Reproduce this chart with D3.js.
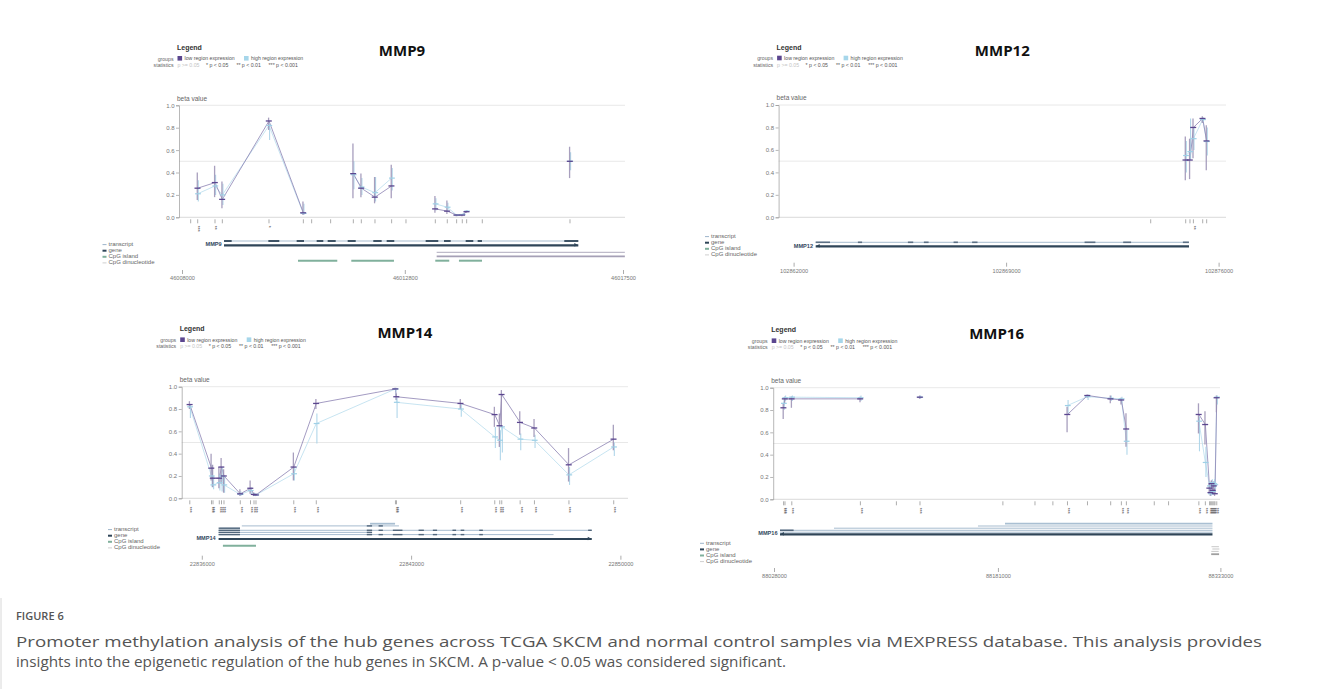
<!DOCTYPE html>
<html>
<head>
<meta charset="utf-8">
<script src="https://d3js.org/d3.v7.min.js"></script>
<style>
  body { margin: 0; background: #fff; }
  svg text { font-family: "Liberation Sans", Arial, sans-serif; }
  .title { font-family: "Open Sans", sans-serif; font-weight: 700; font-size: 15px; fill: #111; }
  .caption { font-family: "Open Sans", sans-serif; fill: #555; }
</style>
</head>
<body>
<svg id="fig" width="1318" height="689"></svg>
<script>
// ---------- data ----------
const yTicks = [0, 0.2, 0.4, 0.6, 0.8, 1.0]

// MMP9
const mmp9Ticks = [46008000, 46012800, 46017500]
const mmp9Probes = [46008187, 46008338, 46008711, 46008869, 46009874, 46010614, 46010793, 46011202, 46011691, 46011863, 46012157, 46012516, 46012825, 46013457, 46013715, 46013916, 46014038, 46014132, 46014469, 46016358]
const mmp9Low  = [null, 0.26, 0.31, 0.16, 0.86, 0.04, null, null, 0.39, 0.26, 0.18, 0.28, null, 0.075, 0.055, 0.02, 0.02, 0.05, null, 0.50]
const mmp9High = [null, 0.21, 0.28, 0.20, 0.82, 0.035, null, null, 0.38, 0.27, 0.22, 0.35, null, 0.12, 0.09, 0.02, 0.025, 0.055, null, 0.50]
const mmp9LowBar = [null, [0.155, 0.40], [0.18, 0.46], [0.08, 0.32], [0.78, 0.89], [0.02, 0.14], null, null, [0.17, 0.66], [0.18, 0.39], [0.125, 0.36], [0.17, 0.47], null, [0.04, 0.19], [0.03, 0.15], [0.01, 0.03], [0.01, 0.03], [0.04, 0.06], null, [0.35, 0.63]]
const mmp9HighBar = [null, [0.14, 0.33], [0.2, 0.38], [0.11, 0.30], [0.69, 0.84], [0.02, 0.12], null, null, [0.25, 0.5], [0.2, 0.35], [0.14, 0.36], [0.24, 0.44], null, [0.06, 0.17], [0.05, 0.13], [0.01, 0.03], [0.015, 0.035], [0.045, 0.065], null, [0.42, 0.58]]
const mmp9Stars = [0, 3, 2, 0, 1, 0, 0, 0, 0, 0, 0, 0, 0, 0, 0, 0, 0, 0, 0, 0]
const mmp9Gene = [46008905, 46016537]
const mmp9Exons = [[46008905, 46009070], [46009860, 46010096], [46010470, 46010628], [46010901, 46011044], [46011138, 46011311], [46011569, 46011742], [46012121, 46012301], [46012409, 46012573], [46013249, 46013521], [46013644, 46013788], [46014111, 46014275], [46014369, 46014462], [46016235, 46016537]]
const mmp9Neighbor = [46013486, 46017540]
const mmp9Islands = [[46010499, 46011345], [46011647, 46012566], [46013456, 46013757], [46013966, 46014462]]

// MMP12
const mmp12Ticks = [102862000, 102869000, 102876000]
const mmp12Probes = [102873763, 102874916, 102875057, 102875170, 102875476, 102875607]
const mmp12Low  = [null, 0.51, 0.51, 0.80, 0.88, 0.68]
const mmp12High = [null, 0.55, 0.585, 0.70, 0.87, 0.675]
const mmp12LowBar = [null, [0.33, 0.72], [0.34, 0.70], [0.525, 0.88], [0.84, 0.90], [0.42, 0.82]]
const mmp12HighBar = [null, [0.40, 0.68], [0.52, 0.88], [0.60, 0.80], [0.85, 0.89], [0.55, 0.80]]
const mmp12Stars = [0, 0, 0, 2, 0, 0]
const mmp12Gene = [102862728, 102875025]
const mmp12Exons = [[102862728, 102863199], [102864118, 102864256], [102865765, 102865940], [102866292, 102866447], [102867270, 102867412], [102867880, 102868058], [102871585, 102871941], [102872857, 102873117], [102874824, 102875022]]

// MMP14
const mmp14Ticks = [22836000, 22843000, 22850000]
const mmp14Probes = [22835599, 22836324, 22836375, 22836585, 22836659, 22836742, 22837287, 22837629, 22837746, 22837812, 22839076, 22839829, 22842477, 22842511, 22844658, 22845798, 22845965, 22846032, 22846647, 22847125, 22848279, 22849777]
const mmp14Low  = [0.84, 0.27, 0.18, 0.18, 0.28, 0.20, 0.04, 0.09, 0.035, 0.03, 0.28, 0.85, 0.98, 0.91, 0.85, 0.75, 0.65, 0.93, 0.68, 0.63, 0.30, 0.53]
const mmp14High = [0.82, 0.20, 0.12, 0.14, 0.20, 0.12, 0.035, 0.07, 0.035, 0.03, 0.22, 0.67, 0.98, 0.86, 0.80, 0.55, 0.52, 0.64, 0.53, 0.52, 0.21, 0.46]
const mmp14LowBar = [[0.80, 0.87], [0.16, 0.40], [0.10, 0.30], [0.09, 0.28], [0.13, 0.36], [0.05, 0.26], [0.02, 0.08], [0.04, 0.16], [0.02, 0.05], [0.02, 0.04], [0.16, 0.41], [0.80, 0.89], [0.97, 0.99], [0.88, 0.94], [0.80, 0.89], [0.64, 0.82], [0.46, 0.76], [0.64, 0.97], [0.57, 0.78], [0.55, 0.71], [0.15, 0.45], [0.43, 0.66]]
const mmp14HighBar = [[0.72, 0.84], [0.10, 0.30], [0.08, 0.20], [0.07, 0.22], [0.06, 0.28], [0.05, 0.20], [0.02, 0.06], [0.04, 0.10], [0.02, 0.05], [0.02, 0.04], [0.16, 0.28], [0.49, 0.76], [0.96, 0.99], [0.72, 0.90], [0.73, 0.85], [0.45, 0.64], [0.34, 0.61], [0.41, 0.64], [0.43, 0.58], [0.45, 0.57], [0.12, 0.28], [0.38, 0.50]]
const mmp14Stars = [3, 3, 3, 3, 3, 3, 3, 3, 3, 3, 3, 3, 3, 3, 3, 3, 3, 3, 3, 3, 3, 3]
const mmp14Gene = [22836562, 22849042]
const mmp14Transcripts = [[22841627, 22842463], [22837338, 22842594], [22836609, 22837277], [22836562, 22849042], [22836562, 22841691], [22836562, 22847764]]
const mmp14Exons = [[22836562, 22837277], [22841518, 22841695], [22841912, 22842056], [22842390, 22842711], [22843250, 22843427], [22843728, 22843868], [22844383, 22844504], [22844658, 22844778], [22845280, 22845400], [22848921, 22849042]]
const mmp14Islands = [[22836706, 22837812]]

// MMP16
const mmp16Ticks = [88028000, 88181000, 88333000]
const mmp16Probes = [88034559, 88035515, 88040161, 88087028, 88111624, 88127747, 88184385, 88206315, 88218545, 88228519, 88242183, 88258034, 88265344, 88268760, 88287821, 88297590, 88318292, 88322732, 88325602, 88326354, 88327105, 88327857, 88328608, 88329291, 88330521]
const mmp16Low  = [0.82, 0.90, 0.90, 0.90, null, 0.915, null, null, null, 0.76, 0.93, 0.90, 0.89, 0.63, null, null, 0.76, 0.67, 0.10, 0.06, 0.14, 0.08, 0.12, 0.05, 0.91]
const mmp16High = [0.86, 0.91, 0.915, 0.91, null, 0.915, null, null, null, 0.84, 0.92, 0.905, 0.90, 0.52, null, null, 0.70, 0.33, 0.12, 0.05, 0.15, 0.07, 0.14, 0.13, 0.915]
const mmp16LowBar = [[0.72, 0.86], [0.86, 0.92], [0.82, 0.92], [0.87, 0.92], null, [0.90, 0.93], null, null, null, [0.60, 0.83], [0.91, 0.94], [0.86, 0.93], [0.85, 0.91], [0.47, 0.77], null, null, [0.59, 0.86], [0.49, 0.79], [0.06, 0.14], [0.03, 0.09], [0.10, 0.17], [0.05, 0.12], [0.08, 0.16], [0.03, 0.08], [0.78, 0.93]]
const mmp16HighBar = [[0.80, 0.90], [0.88, 0.93], [0.88, 0.93], [0.88, 0.93], null, [0.90, 0.93], null, null, null, [0.77, 0.89], [0.89, 0.94], [0.88, 0.93], [0.86, 0.92], [0.40, 0.62], null, null, [0.43, 0.74], [0.20, 0.47], [0.08, 0.16], [0.03, 0.08], [0.11, 0.18], [0.04, 0.10], [0.10, 0.18], [0.09, 0.16], [0.85, 0.93]]
const mmp16Stars = [3, 3, 3, 3, 0, 3, 0, 0, 0, 3, 0, 0, 3, 3, 0, 0, 3, 3, 3, 3, 3, 3, 3, 3, 3]
const mmp16Gene = [88032099, 88327583]
const mmp16Transcripts = [[88185819, 88327583], [88167373, 88327583], [88068992, 88327583], [88032099, 88327583], [88032099, 88327583]]
const mmp16Exons = [[88032099, 88041390]]
const mmp16Neighbors = [[88326900, 88332000], [88327500, 88332300], [88326800, 88331800], [88326700, 88332100]]

const groupLabels = ["low region expression", "high region expression"]
const statLabels = ["p >= 0.05", "* p < 0.05", "** p < 0.01", "*** p < 0.001"]
const trackLegend = ["transcript", "gene", "CpG island", "CpG dinucleotide"]

// ---------- colours ----------
const cLow = "#5b468f", cLowLine = "#8b82b3", cLowBar = "#9a8fb3"
const cHigh = "#9fd0e6", cHighLine = "#b9dded", cHighBar = "#a9d3e8"
const cTranscript = "#9db4ca", cGene = "#2f4558", cIsland = "#80b09c", cNeighbor = "#a5a0b6"

const svg = d3.select("#fig")

function probeRows(p) {
  return p.probes.map((pos, i) => ({pos: pos, low: p.low[i], high: p.high[i], lowBar: p.lowBar[i], highBar: p.highBar[i], stars: p.stars[i]}))
}

function drawPanel(p) {
  const L = p.layout
  const g = svg.append("g")
  const y = d3.scaleLinear().domain([0, 1]).range([L.yBot, L.yTop])
  const x = d3.scaleLinear().domain([p.ticks[0], p.ticks[p.ticks.length - 1]]).range(L.gx)
  const rows = probeRows(p)

  // title
  g.append("text").attr("class", "title")
    .attr("x", (L.x0 + L.x1) / 2).attr("y", L.yTop - 49)
    .attr("text-anchor", "middle").text(p.name)

  // legend block
  g.append("text").attr("x", L.x0 - 2).attr("y", L.yTop - 55.5)
    .style("font-size", "7px").style("font-weight", "bold").attr("fill", "#333").text("Legend")
  g.append("text").attr("x", L.x0 - 5.5).attr("y", L.yTop - 44.8).attr("text-anchor", "end")
    .style("font-size", "5.2px").attr("fill", "#666").text("groups")
  g.append("text").attr("x", L.x0 - 5.5).attr("y", L.yTop - 38.5).attr("text-anchor", "end")
    .style("font-size", "5.2px").attr("fill", "#666").text("statistics")
  const sq = [[L.x0 - 1.5, cLow], [L.x0 + 65, "#a6d6ea"]]
  sq.forEach((s, i) => {
    g.append("rect").attr("x", s[0]).attr("y", L.yTop - 49.3).attr("width", 4.6).attr("height", 4.6).attr("fill", s[1])
    g.append("text").attr("x", s[0] + 7).attr("y", L.yTop - 45.2)
      .style("font-size", "5.2px").attr("fill", "#555").text(groupLabels[i])
  })
  const statX = [-1.5, 27, 57.4, 89.6]
  statLabels.forEach((t, i) => {
    g.append("text").attr("x", L.x0 + statX[i]).attr("y", L.yTop - 38.5)
      .style("font-size", "5.2px").attr("fill", i == 0 ? "#c4c4c4" : "#555").text(t)
  })

  // grid lines
  ;[1, 0.5, 0].forEach(v => {
    g.append("line").attr("x1", L.x0).attr("x2", L.x1).attr("y1", y(v)).attr("y2", y(v))
      .attr("stroke", v == 0 ? "#cfcfcf" : "#e2e2e2").attr("stroke-width", 0.8)
  })

  // y axis
  const ya = g.append("g").attr("transform", "translate(" + L.x0 + ",0)")
    .call(d3.axisLeft(y).tickValues(yTicks).tickFormat(d3.format(".1f")).tickSize(3).tickPadding(1.5))
  ya.selectAll("path,line").attr("stroke", "#9a9a9a").attr("stroke-width", 0.7)
  ya.selectAll("text").style("font-size", "6px").attr("fill", "#777").style("font-family", "Liberation Sans, Arial, sans-serif")
  g.append("text").attr("x", L.x0 - 2).attr("y", L.yTop - 4.8)
    .style("font-size", "6.5px").attr("fill", "#666").text("beta value")

  // connecting lines
  const lowLine = d3.line().defined(d => d.low != null).x(d => x(d.pos)).y(d => y(d.low))
  const highLine = d3.line().defined(d => d.high != null).x(d => x(d.pos)).y(d => y(d.high))
  g.append("path").attr("d", highLine(rows)).attr("fill", "none").attr("stroke", cHighLine).attr("stroke-width", 0.8)
  g.append("path").attr("d", lowLine(rows)).attr("fill", "none").attr("stroke", cLowLine).attr("stroke-width", 0.8)

  // error bars
  const withData = rows.filter(d => d.low != null)
  g.selectAll(".hb").data(withData).enter().append("line")
    .attr("x1", d => x(d.pos) + 0.6).attr("x2", d => x(d.pos) + 0.6)
    .attr("y1", d => y(d.highBar[0])).attr("y2", d => y(d.highBar[1]))
    .attr("stroke", cHighBar).attr("stroke-width", 1.1).attr("opacity", 0.9)
  g.selectAll(".lb").data(withData).enter().append("line")
    .attr("x1", d => x(d.pos) - 0.4).attr("x2", d => x(d.pos) - 0.4)
    .attr("y1", d => y(d.lowBar[0])).attr("y2", d => y(d.lowBar[1]))
    .attr("stroke", cLowBar).attr("stroke-width", 1.3).attr("opacity", 0.85)

  // mean markers
  g.selectAll(".hm").data(withData).enter().append("line")
    .attr("x1", d => x(d.pos) - 2.6).attr("x2", d => x(d.pos) + 3.2)
    .attr("y1", d => y(d.high)).attr("y2", d => y(d.high))
    .attr("stroke", cHigh).attr("stroke-width", 1.2)
  g.selectAll(".lm").data(withData).enter().append("line")
    .attr("x1", d => x(d.pos) - 3.2).attr("x2", d => x(d.pos) + 2.8)
    .attr("y1", d => y(d.low)).attr("y2", d => y(d.low))
    .attr("stroke", cLow).attr("stroke-width", 1.3)

  // probe ticks and stars
  g.selectAll(".pt").data(rows).enter().append("line")
    .attr("x1", d => x(d.pos)).attr("x2", d => x(d.pos))
    .attr("y1", L.yBot + 2).attr("y2", L.yBot + 6)
    .attr("stroke", "#8a8a8a").attr("stroke-width", 0.7)
  g.selectAll(".st").data(rows.filter(d => d.stars > 0)).enter().append("text")
    .attr("transform", d => "translate(" + (x(d.pos) - 1.6) + "," + (L.yBot + 8.5) + ") rotate(90)")
    .style("font-size", "5px").attr("fill", "#555").text(d => "*".repeat(d.stars))

  // gene track
  const track = g.append("g")
  p.tracks.forEach(t => {
    track.append("line").attr("x1", x(t.span[0])).attr("x2", Math.min(x(t.span[1]), L.x1))
      .attr("y1", t.y).attr("y2", t.y).attr("stroke", t.color).attr("stroke-width", t.w)
    ;(t.exons || []).forEach(e => {
      track.append("rect").attr("x", x(e[0])).attr("width", Math.max(0.8, x(e[1]) - x(e[0])))
        .attr("y", t.y - t.ew / 2).attr("height", t.ew).attr("fill", t.exonColor)
    })
  })
  ;(p.islands || []).forEach(s => {
    track.append("line").attr("x1", x(s[0])).attr("x2", x(s[1]))
      .attr("y1", L.islandY).attr("y2", L.islandY).attr("stroke", cIsland).attr("stroke-width", 2)
  })
  track.append("text").attr("x", L.label[0]).attr("y", L.label[1]).attr("text-anchor", "end")
    .style("font-size", "5.6px").style("font-weight", "bold").attr("fill", "#34495e").text(p.name)

  // strand arrow on gene
  const gs = p.gene
  const ax = p.strand > 0 ? x(gs[1]) : x(gs[0])
  track.append("path")
    .attr("d", "M" + (ax - 4 * p.strand) + "," + (L.geneY - 2.2) + "L" + ax + "," + L.geneY + "L" + (ax - 4 * p.strand) + "," + (L.geneY + 1.2) + "Z")
    .attr("fill", cGene)

  // track legend
  const lc = [[cTranscript, 1], [cGene, 2], [cIsland, 2], ["#cfcfcf", 1]]
  trackLegend.forEach((t, i) => {
    const yy = L.legendY + i * 6.1
    g.append("line").attr("x1", L.legendX).attr("x2", L.legendX + 4).attr("y1", yy + 0.6).attr("y2", yy + 0.6)
      .attr("stroke", lc[i][0]).attr("stroke-width", lc[i][1])
    g.append("text").attr("x", L.legendX + 6).attr("y", yy + 2)
      .style("font-size", "6px").attr("fill", "#666").text(t)
  })

  // genomic axis
  const xa = g.append("g").attr("transform", "translate(0," + L.axisY + ")")
    .call(d3.axisBottom(x).tickValues(p.ticks).tickFormat(d3.format("d")).tickSize(4).tickPadding(2))
  xa.select(".domain").remove()
  xa.selectAll("line").attr("stroke", "#888").attr("stroke-width", 0.7)
  xa.selectAll("text").style("font-size", "5.6px").attr("fill", "#777").style("font-family", "Liberation Sans, Arial, sans-serif")
}

// ---------- panels ----------
const mmp9Layout = {x0: 179, x1: 625, yTop: 105.3, yBot: 217.3, gx: [182, 623], axisY: 270, legendX: 102.5, legendY: 244, label: [221.7, 246], geneY: 245.3, islandY: 260.7}
const mmp12Layout = {x0: 778.6, x1: 1226, yTop: 105, yBot: 217.3, gx: [793.6, 1218.6], axisY: 262.7, legendX: 705, legendY: 236, label: [813, 247.6], geneY: 246.3}
const mmp14Layout = {x0: 181.7, x1: 628, yTop: 386.7, yBot: 498.3, gx: [201.8, 620.4], axisY: 555.7, legendX: 108, legendY: 529, label: [215.7, 539.6], geneY: 539, islandY: 545.7}
const mmp16Layout = {x0: 773.2, x1: 1220, yTop: 387.7, yBot: 499.3, gx: [774, 1220.4], axisY: 568, legendX: 700, legendY: 542.7, label: [777.5, 535.3], geneY: 534.3}

const panels = [
  {name: "MMP9", ticks: mmp9Ticks, probes: mmp9Probes, low: mmp9Low, high: mmp9High, lowBar: mmp9LowBar, highBar: mmp9HighBar, stars: mmp9Stars,
   gene: mmp9Gene, strand: 1, islands: mmp9Islands, layout: mmp9Layout,
   tracks: [
     {span: mmp9Gene, y: 241, color: cTranscript, w: 0.9, exons: mmp9Exons, ew: 1.8, exonColor: cGene},
     {span: mmp9Gene, y: 245.3, color: cGene, w: 2.2},
     {span: mmp9Neighbor, y: 252.3, color: cNeighbor, w: 0.9},
     {span: mmp9Neighbor, y: 256.3, color: cNeighbor, w: 1.8}
   ]},
  {name: "MMP12", ticks: mmp12Ticks, probes: mmp12Probes, low: mmp12Low, high: mmp12High, lowBar: mmp12LowBar, highBar: mmp12HighBar, stars: mmp12Stars,
   gene: mmp12Gene, strand: -1, layout: mmp12Layout,
   tracks: [
     {span: mmp12Gene, y: 242.3, color: cTranscript, w: 0.9, exons: mmp12Exons, ew: 1.6, exonColor: "#5d7185"},
     {span: mmp12Gene, y: 246.3, color: cGene, w: 2.2}
   ]},
  {name: "MMP14", ticks: mmp14Ticks, probes: mmp14Probes, low: mmp14Low, high: mmp14High, lowBar: mmp14LowBar, highBar: mmp14HighBar, stars: mmp14Stars,
   gene: mmp14Gene, strand: 1, islands: mmp14Islands, layout: mmp14Layout,
   tracks: [
     {span: mmp14Transcripts[0], y: 523.7, color: "#a9bfd2", w: 1.8},
     {span: mmp14Transcripts[1], y: 525.9, color: cTranscript, w: 0.9, exons: [mmp14Exons[1], mmp14Exons[2]], ew: 1.4, exonColor: "#52677c"},
     {span: mmp14Transcripts[2], y: 528.2, color: cTranscript, w: 0.9, exons: [mmp14Exons[0]], ew: 1.4, exonColor: "#52677c"},
     {span: mmp14Transcripts[3], y: 530.3, color: cTranscript, w: 0.9, exons: mmp14Exons, ew: 1.4, exonColor: "#52677c"},
     {span: mmp14Transcripts[4], y: 532.4, color: cTranscript, w: 0.9, exons: [mmp14Exons[0], mmp14Exons[1]], ew: 1.4, exonColor: "#52677c"},
     {span: mmp14Transcripts[5], y: 534.6, color: cTranscript, w: 0.9, exons: mmp14Exons.slice(0, 9), ew: 1.4, exonColor: "#52677c"},
     {span: mmp14Gene, y: 539, color: cGene, w: 2.2}
   ]},
  {name: "MMP16", ticks: mmp16Ticks, probes: mmp16Probes, low: mmp16Low, high: mmp16High, lowBar: mmp16LowBar, highBar: mmp16HighBar, stars: mmp16Stars,
   gene: mmp16Gene, strand: -1, layout: mmp16Layout,
   tracks: [
     {span: mmp16Transcripts[0], y: 523.7, color: "#a9bfd2", w: 1.8},
     {span: mmp16Transcripts[1], y: 526, color: cTranscript, w: 0.9},
     {span: mmp16Transcripts[2], y: 528.2, color: cTranscript, w: 0.9},
     {span: mmp16Transcripts[3], y: 530.3, color: cTranscript, w: 0.9, exons: mmp16Exons, ew: 1.6, exonColor: "#52677c"},
     {span: mmp16Transcripts[4], y: 532.2, color: cTranscript, w: 0.9},
     {span: mmp16Gene, y: 534.3, color: cGene, w: 2.2},
     {span: mmp16Neighbors[0], y: 546.7, color: "#b0b0b0", w: 0.7},
     {span: mmp16Neighbors[1], y: 549, color: "#b0b0b0", w: 0.7},
     {span: mmp16Neighbors[2], y: 551.4, color: "#b0b0b0", w: 0.7},
     {span: mmp16Neighbors[3], y: 554.2, color: "#a0a0a0", w: 1.8}
   ]}
]

panels.forEach(drawPanel)

// ---------- caption ----------
svg.append("line").attr("x1", 1).attr("x2", 1).attr("y1", 598).attr("y2", 689).attr("stroke", "#d8d8d8")
svg.append("text").attr("class", "caption").attr("x", 16).attr("y", 620)
  .style("font-size", "11px").style("font-weight", 600).text("FIGURE 6")
svg.append("text").attr("class", "caption").attr("x", 16).attr("y", 647)
  .style("font-size", "15px").attr("textLength", 1246).attr("lengthAdjust", "spacingAndGlyphs")
  .text("Promoter methylation analysis of the hub genes across TCGA SKCM and normal control samples via MEXPRESS database. This analysis provides")
svg.append("text").attr("class", "caption").attr("x", 16).attr("y", 667)
  .style("font-size", "15px").attr("textLength", 770).attr("lengthAdjust", "spacingAndGlyphs")
  .text("insights into the epigenetic regulation of the hub genes in SKCM. A p-value < 0.05 was considered significant.")
</script>
</body>
</html>
